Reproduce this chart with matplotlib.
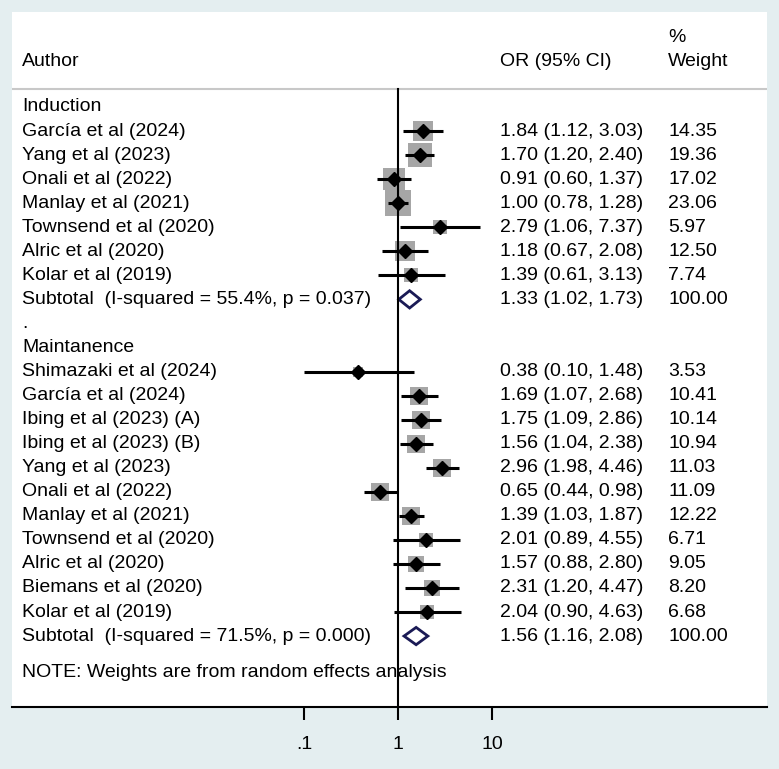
import matplotlib.pyplot as plt
from matplotlib.patches import Polygon
import matplotlib.transforms as mtransforms

plt.rcParams["font.family"] = ["Liberation Sans", "DejaVu Sans"]

# study data
induction_names = ["García et al (2024)", "Yang et al (2023)", "Onali et al (2022)",
                   "Manlay et al (2021)", "Townsend et al (2020)", "Alric et al (2020)",
                   "Kolar et al (2019)"]
induction_or = [1.84, 1.70, 0.91, 1.00, 2.79, 1.18, 1.39]
induction_lo = [1.12, 1.20, 0.60, 0.78, 1.06, 0.67, 0.61]
induction_hi = [3.03, 2.40, 1.37, 1.28, 7.37, 2.08, 3.13]
induction_w = [14.35, 19.36, 17.02, 23.06, 5.97, 12.50, 7.74]
induction_sub = [1.33, 1.02, 1.73]
induction_label = "Subtotal  (I-squared = 55.4%, p = 0.037)"

maint_names = ["Shimazaki et al (2024)", "García et al (2024)", "Ibing et al (2023) (A)",
               "Ibing et al (2023) (B)", "Yang et al (2023)", "Onali et al (2022)",
               "Manlay et al (2021)", "Townsend et al (2020)", "Alric et al (2020)",
               "Biemans et al (2020)", "Kolar et al (2019)"]
maint_or = [0.38, 1.69, 1.75, 1.56, 2.96, 0.65, 1.39, 2.01, 1.57, 2.31, 2.04]
maint_lo = [0.10, 1.07, 1.09, 1.04, 1.98, 0.44, 1.03, 0.89, 0.88, 1.20, 0.90]
maint_hi = [1.48, 2.68, 2.86, 2.38, 4.46, 0.98, 1.87, 4.55, 2.80, 4.47, 4.63]
maint_w = [3.53, 10.41, 10.14, 10.94, 11.03, 11.09, 12.22, 6.71, 9.05, 8.20, 6.68]
maint_sub = [1.56, 1.16, 2.08]
maint_label = "Subtotal  (I-squared = 71.5%, p = 0.000)"

tick_vals = [0.1, 1, 10]
tick_labels = [".1", "1", "10"]

BG = "#e4eef0"
NAVY = "#1a1a55"
BOX = "#a6a6a6"
FS = 14

fig = plt.figure(figsize=(7.79, 7.69), dpi=100)
fig.patch.set_facecolor(BG)
W, H = 779, 769
# white panel: x 12..767 px, y 12..707 px
ax = fig.add_axes([12 / W, 1 - 707 / H, 755 / W, 695 / H])
ax.set_facecolor("white")
ax.set_xscale("log")
ax.set_xlim(10 ** -4.106, 10 ** 3.926)
ax.set_ylim(24.95, -3.95)

trans = mtransforms.blended_transform_factory(ax.transAxes, ax.transData)
x_author, x_or, x_w = 0.0132, 0.646, 0.869


def draw_group(start, title, names, ors, los, his, ws, sub, sublabel):
    ax.text(x_author, start, title, transform=trans, fontsize=FS, va="center")
    row = start + 1
    for name, o, lo, hi, w in zip(names, ors, los, his, ws):
        ax.scatter([o], [row], marker="s", s=w * 15, color=BOX, zorder=2, linewidths=0)
        ax.plot([lo, hi], [row, row], color="black", lw=2.2, zorder=3, solid_capstyle="butt")
        ax.plot([o], [row], marker="D", color="black", markersize=7, zorder=4)
        ax.text(x_author, row, name, transform=trans, fontsize=FS, va="center")
        ax.text(x_or, row, f"{o:.2f} ({lo:.2f}, {hi:.2f})", transform=trans, fontsize=FS, va="center")
        ax.text(x_w, row, f"{w:.2f}", transform=trans, fontsize=FS, va="center")
        row += 1
    est, lo, hi = sub
    h = 0.36
    ax.add_patch(Polygon([(lo, row), (est, row - h), (hi, row), (est, row + h)],
                         closed=True, fill=False, edgecolor=NAVY, lw=2, zorder=4))
    ax.text(x_author, row, sublabel, transform=trans, fontsize=FS, va="center")
    ax.text(x_or, row, f"{est:.2f} ({lo:.2f}, {hi:.2f})", transform=trans, fontsize=FS, va="center")
    ax.text(x_w, row, "100.00", transform=trans, fontsize=FS, va="center")
    return row


end1 = draw_group(0, "Induction", induction_names, induction_or, induction_lo,
                  induction_hi, induction_w, induction_sub, induction_label)
ax.text(x_author, end1 + 1, ".", transform=trans, fontsize=FS, va="center")
end2 = draw_group(end1 + 2, "Maintanence", maint_names, maint_or, maint_lo,
                  maint_hi, maint_w, maint_sub, maint_label)
ax.text(x_author, end2 + 1.5, "NOTE: Weights are from random effects analysis",
        transform=trans, fontsize=FS, va="center")

# header
ax.text(x_author, -1.9, "Author", transform=trans, fontsize=FS, va="center")
ax.text(x_or, -1.9, "OR (95% CI)", transform=trans, fontsize=FS, va="center")
ax.text(x_w, -1.9, "Weight", transform=trans, fontsize=FS, va="center")
ax.text(x_w, -2.9, "%", transform=trans, fontsize=FS, va="center")
ax.axhline(-0.75, color="#c8c8c8", lw=1.5, zorder=1)

# null line
ax.plot([1, 1], [-0.75, 24.95], color="black", lw=1.5, zorder=5, clip_on=False)

for s in ["top", "left", "right"]:
    ax.spines[s].set_visible(False)
ax.spines["bottom"].set_linewidth(1.5)
ax.set_yticks([])
ax.set_xticks(tick_vals)
ax.set_xticklabels(tick_labels, fontsize=FS)
ax.minorticks_off()
ax.tick_params(axis="x", length=9, width=1.5, pad=12)

fig.savefig("out.png", dpi=100, facecolor=BG)
